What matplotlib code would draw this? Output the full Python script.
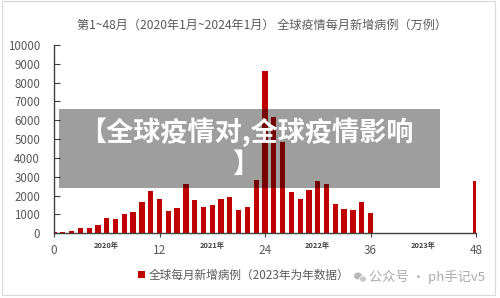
import matplotlib
matplotlib.use("Agg")
import matplotlib.pyplot as plt
from matplotlib.patches import Rectangle, Patch, Ellipse

plt.rcParams['font.family'] = ['Noto Sans CJK SC', 'DejaVu Sans']

# ---- data ----
months = list(range(0, 37)) + [48]
cases = [50, 70, 140, 265, 290, 425, 820, 740, 1030, 1150, 1650, 2250,
         1800, 1170, 1330, 2640, 1750, 1400, 1490, 1820, 1930, 1220, 1420,
         2810, 8640, 6190, 4870, 2210, 1820, 2300, 2780, 2640, 1560, 1310,
         1260, 1680, 1060, 2760]
major_ticks = [0, 12, 24, 36, 48]
year_pos = [6, 18, 30, 42]
year_labels = ["2020年", "2021年", "2022年", "2023年"]
title = "第1~48月（2020年1月~2024年1月） 全球疫情每月新增病例（万例）"
legend_label = "全球每月新增病例（2023年为年数据）"
overlay_text = "【全球疫情对,全球疫情影响\n】"
watermark = "公众号 · ph手记v5"

RED = "#c00000"
GRAY = "#595959"

W, H = 500, 298
fig = plt.figure(figsize=(W / 100, H / 100), dpi=100)
fig.patch.set_facecolor("white")

# frame around chart
fig.patches.append(Rectangle((2 / W, 3 / H), 493 / W, 294 / H, transform=fig.transFigure,
                             fill=False, edgecolor="#d9d9d9", linewidth=0.8))

ax = fig.add_axes([54 / W, 1 - 233.3 / H, (476 - 54) / W, (233.3 - 45) / H])
ax.bar(months, cases, width=0.6, color=RED, zorder=2)
ax.set_xlim(0, 48)
ax.set_ylim(0, 10000)
ax.set_yticks(range(0, 10001, 1000))
ax.set_xticks(major_ticks)
ax.set_xticks(year_pos, minor=True)
ax.set_xticklabels(year_labels, minor=True, fontsize=5.3, fontweight="bold", color="#404040")
ax.tick_params(axis="x", which="minor", length=0, pad=6)
ax.tick_params(axis="x", which="major", direction="out", length=3, width=0.8,
               color="#404040", labelsize=8.5, labelcolor=GRAY, pad=5)
ax.tick_params(axis="y", direction="in", length=4, width=0.8, color="#404040",
               labelsize=8.3, labelcolor=GRAY, pad=10)
for s in ["top", "right"]:
    ax.spines[s].set_visible(False)
for s in ["left", "bottom"]:
    ax.spines[s].set_color("#404040")
    ax.spines[s].set_linewidth(1.0)
    ax.spines[s].set_zorder(3)

fig.text(262 / W, 1 - 25 / H, title, ha="center", va="center", fontsize=8.7, color=GRAY)

fig.legend(handles=[Patch(facecolor=RED, label=legend_label)], loc="center",
           bbox_to_anchor=(244 / W, 1 - 275 / H), frameon=False, fontsize=8.4,
           handlelength=0.6, handleheight=0.6, handletextpad=0.3, labelcolor=GRAY)

# watermark
fig.patches.append(Ellipse((358 / W, 1 - 276 / H), 8 / W, 7 / H, transform=fig.transFigure,
                           facecolor="#b8b8b8", edgecolor="none", zorder=5))
fig.patches.append(Ellipse((363 / W, 1 - 279 / H), 7 / W, 6 / H, transform=fig.transFigure,
                           facecolor="#c8c8c8", edgecolor="white", linewidth=0.5, zorder=5))
fig.text(369 / W, 1 - 277 / H, watermark, ha="left", va="center", fontsize=9.5, color="#ababab")

# overlay banner
fig.patches.append(Rectangle((59 / W, 1 - 188 / H), (440 - 59) / W, (188 - 109) / H,
                             transform=fig.transFigure, facecolor="black", alpha=0.38,
                             edgecolor="none", zorder=10))
fig.text(246 / W, 1 - 148 / H, overlay_text, ha="center", va="center", fontsize=19.5,
         fontweight="bold", color="white", zorder=11, linespacing=1.15)

fig.savefig("out.png", dpi=100)
